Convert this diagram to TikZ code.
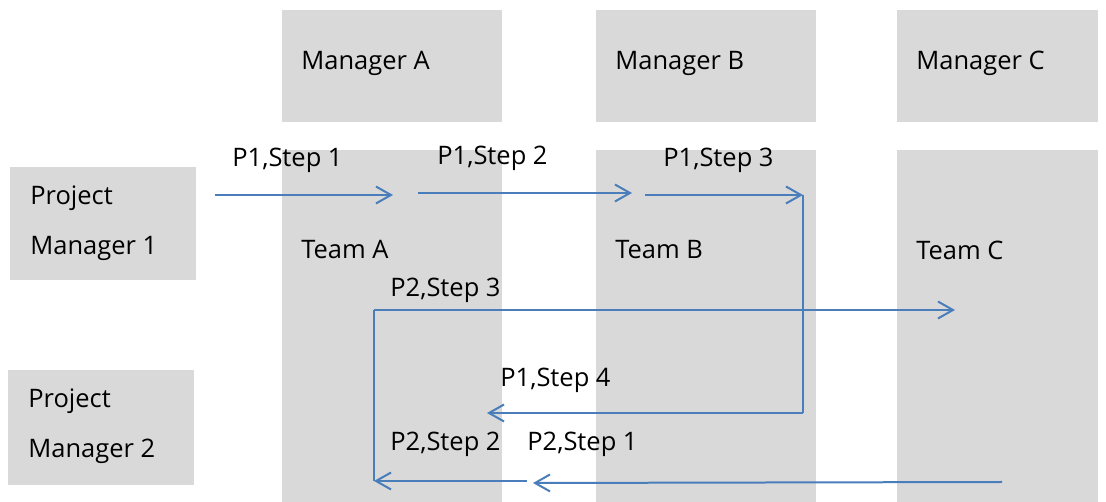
\documentclass[tikz,border=0pt]{standalone}
\usepackage{fontspec}
\setmainfont{Open Sans}
\usetikzlibrary{arrows.meta}
\definecolor{boxgray}{HTML}{D9D9D9}
\definecolor{flowblue}{HTML}{4A7EBB}
\begin{document}
\begin{tikzpicture}[
        x=0.02cm, y=-0.02cm,
    ]

    \tikzstyle{box} = [rectangle, fill=boxgray, inner sep=0pt]
    \tikzstyle{txt} = [anchor=west, inner sep=0pt, align=left,
                       font=\fontsize{14.5}{28.4}\selectfont]
    \tikzstyle{flow} = [-{Straight Barb[length=0.3cm, width=0.34cm]},
                        draw=flowblue, line width=0.04cm]
    \tikzstyle{wire} = [draw=flowblue, line width=0.04cm]

    \useasboundingbox (0,0) rectangle (1106,502);

    % Boxes
    \node[box, minimum width=4.4cm, minimum height=2.24cm] (mgrA) at (392,66) {};
    \node[box, minimum width=4.4cm, minimum height=2.24cm] (mgrB) at (706,66) {};
    \node[box, minimum width=4.02cm, minimum height=2.24cm] (mgrC) at (997.5,66) {};
    \node[box, minimum width=4.4cm, minimum height=7.04cm] (teamA) at (392,326) {};
    \node[box, minimum width=4.4cm, minimum height=7.04cm] (teamB) at (706,326) {};
    \node[box, minimum width=4.02cm, minimum height=7.04cm] (teamC) at (997.5,326) {};
    \node[box, minimum width=3.72cm, minimum height=2.26cm] (pm1) at (103,223.5) {};
    \node[box, minimum width=3.72cm, minimum height=2.3cm] (pm2) at (101,427.5) {};

    % Box texts
    \node[txt] (mgrAtxt) at (301,63) {Manager A};
    \node[txt] (mgrBtxt) at (615,63) {Manager B};
    \node[txt] (mgrCtxt) at (916,63) {Manager C};
    \node[txt] (teamAtxt) at (301,250) {Team A};
    \node[txt] (teamBtxt) at (615,250) {Team B};
    \node[txt] (teamCtxt) at (916,250) {Team C};
    \node[txt] (pm1txt) at (30,223) {Project\\Manager 1};
    \node[txt] (pm2txt) at (28,426) {Project\\Manager 2};

    % Arrow ends
    \coordinate (p1s1a) at (215,195);
    \coordinate (p1s1b) at (393,195);
    \coordinate (p1s2a) at (418,193);
    \coordinate (p1s2b) at (632,193);
    \coordinate (p1s3a) at (645,195);
    \coordinate (p1s3b) at (803,195);
    \coordinate (p1s4a) at (803,413);
    \coordinate (p1s4b) at (487,413);
    \coordinate (p2s1a) at (1002,482);
    \coordinate (p2s1b) at (533,483);
    \coordinate (p2s2a) at (527,481);
    \coordinate (p2s2b) at (374,481);
    \coordinate (p2s3a) at (374,310);
    \coordinate (p2s3b) at (955,310);

    % Arrows
    \draw[flow] (p1s1a) -- (p1s1b);
    \draw[flow] (p1s2a) -- (p1s2b);
    \draw[flow] (p1s3a) -- (p1s3b);
    \draw[wire] (p1s3b) -- (p1s4a);
    \draw[flow] (p1s4a) -- (p1s4b);
    \draw[flow] (p2s1a) -- (p2s1b);
    \draw[flow] (p2s2a) -- (p2s2b);
    \draw[wire] (p2s2b) -- (p2s3a);
    \draw[flow] (p2s3a) -- (p2s3b);

    % Step labels
    \node[txt] (l1) at (232,160) {P1,Step 1};
    \node[txt] (l2) at (437,158) {P1,Step 2};
    \node[txt] (l3) at (663,160) {P1,Step 3};
    \node[txt] (l4) at (500,380) {P1,Step 4};
    \node[txt] (l5) at (527,444) {P2,Step 1};
    \node[txt] (l6) at (390,444) {P2,Step 2};
    \node[txt] (l7) at (390,290) {P2,Step 3};

    \end{tikzpicture}
\end{document}
